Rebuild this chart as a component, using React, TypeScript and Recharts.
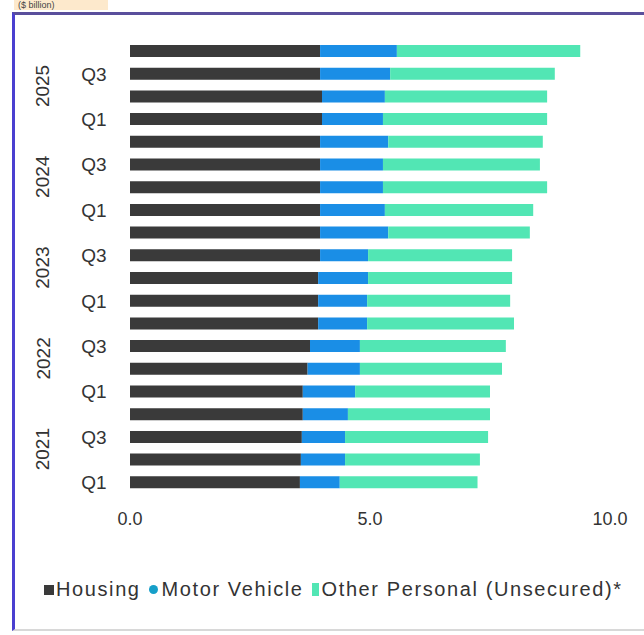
import { BarChart, Bar, XAxis, YAxis, Legend } from "recharts";

// chronological order, 2021 Q1 .. 2025 Q4
const years = ["2021", "2022", "2023", "2024", "2025"];
const quarters = ["Q1", "Q2", "Q3", "Q4"];

const housing = [
  3.54, 3.56, 3.58, 3.6, 3.6, 3.7, 3.75, 3.92, 3.92, 3.92, 3.96, 3.96, 3.96,
  3.96, 3.96, 3.96, 4.0, 4.0, 3.96, 3.96,
];
const motorVehicle = [
  0.83, 0.92, 0.9, 0.94, 1.09, 1.09, 1.04, 1.02, 1.02, 1.04, 1.0, 1.42, 1.35,
  1.31, 1.31, 1.42, 1.27, 1.31, 1.46, 1.6,
];
const otherPersonal = [
  2.87, 2.81, 2.98, 2.96, 2.81, 2.96, 3.04, 3.06, 2.98, 3.0, 3.0, 2.95, 3.09,
  3.42, 3.27, 3.22, 3.42, 3.38, 3.43, 3.82,
];

const xTicks = [0, 5, 10];

const HOUSING = "#3a3a3a";
const MOTOR = "#1a8ee6";
const OTHER = "#52e6b4";
const FONT = "Liberation Sans, Arial, sans-serif";

const rows = years
  .flatMap((y) => quarters.map((q) => `${y} ${q}`))
  .map((label, i) => ({
    label,
    housing: housing[i],
    motor: motorVehicle[i],
    other: otherPersonal[i],
  }))
  .reverse();

const TOP = 40;
const PLOT_H = 477;
const STEP = PLOT_H / rows.length;

function QuarterTick(props: any) {
  const { y, payload } = props;
  const [yr, q] = String(payload.value).split(" ");
  return (
    <g>
      {(q === "Q1" || q === "Q3") && (
        <text
          x={94}
          y={y}
          textAnchor="middle"
          dominantBaseline="central"
          fontSize={19}
          fill="#333"
          fontFamily={FONT}
        >
          {q}
        </text>
      )}
      {q === "Q3" && (
        <text
          x={43}
          y={y + STEP / 2}
          textAnchor="middle"
          dominantBaseline="central"
          fontSize={19}
          fill="#333"
          fontFamily={FONT}
          transform={`rotate(-90, 43, ${y + STEP / 2})`}
        >
          {yr}
        </text>
      )}
    </g>
  );
}

function LegendRow() {
  const txt = { fontSize: 20, letterSpacing: 1.6, color: "#333", marginRight: 8 };
  return (
    <div
      style={{
        display: "flex",
        alignItems: "center",
        fontFamily: FONT,
        whiteSpace: "nowrap",
      }}
    >
      <span style={{ width: 10, height: 10, background: HOUSING, marginRight: 2 }} />
      <span style={txt}>Housing</span>
      <span
        style={{
          width: 9,
          height: 9,
          borderRadius: 5,
          background: "#169fc9",
          marginRight: 4,
        }}
      />
      <span style={txt}>Motor Vehicle</span>
      <span style={{ width: 7, height: 13, background: OTHER, marginRight: 3 }} />
      <span style={{ ...txt, marginRight: 0 }}>Other Personal (Unsecured)*</span>
    </div>
  );
}

export default function App() {
  return (
    <div
      style={{
        position: "absolute",
        left: 0,
        top: 0,
        width: 644,
        height: 635,
        background: "#fff",
        overflow: "hidden",
      }}
    >
      <div
        style={{
          position: "absolute",
          left: 14,
          top: 0,
          width: 90,
          height: 10,
          background: "#fde9cc",
          fontSize: 9,
          lineHeight: "10px",
          color: "#444",
          paddingLeft: 4,
          fontFamily: FONT,
        }}
      >
        ($ billion)
      </div>
      <div
        style={{
          position: "absolute",
          left: 12,
          top: 12,
          width: 632,
          height: 619,
          borderLeft: "3px solid #4a3fd0",
          borderTop: "3px solid #5a4f9c",
          borderBottom: "2px solid #d8d8d8",
          boxSizing: "border-box",
        }}
      />
      <BarChart
        width={644}
        height={635}
        data={rows}
        layout="vertical"
        barSize={12}
        margin={{ top: TOP, right: 34, left: 10, bottom: 635 - TOP - PLOT_H - 40 }}
      >
        <XAxis
          type="number"
          domain={[0, 10]}
          ticks={xTicks}
          tickFormatter={(v: number) => v.toFixed(1)}
          axisLine={false}
          tickLine={false}
          tickMargin={12}
          height={40}
          tick={{ fontSize: 18, fill: "#333", fontFamily: FONT }}
        />
        <YAxis
          type="category"
          dataKey="label"
          width={120}
          axisLine={false}
          tickLine={false}
          interval={0}
          tick={<QuarterTick />}
        />
        <Legend
          content={<LegendRow />}
          wrapperStyle={{ position: "absolute", top: 578, left: 44, width: 600 }}
        />
        <Bar dataKey="housing" name="Housing" stackId="a" fill={HOUSING} isAnimationActive={false} />
        <Bar dataKey="motor" name="Motor Vehicle" stackId="a" fill={MOTOR} isAnimationActive={false} />
        <Bar
          dataKey="other"
          name="Other Personal (Unsecured)*"
          stackId="a"
          fill={OTHER}
          isAnimationActive={false}
        />
      </BarChart>
    </div>
  );
}
